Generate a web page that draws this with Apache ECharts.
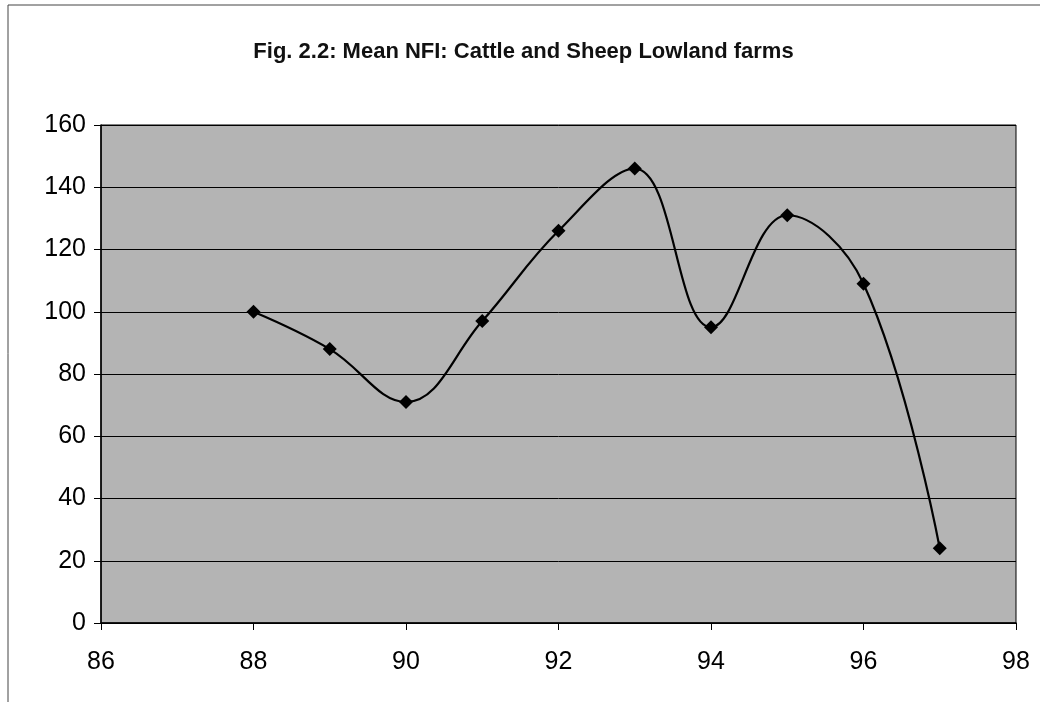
<!DOCTYPE html>
<html>
<head>
<meta charset="utf-8">
<script src="https://cdn.jsdelivr.net/npm/echarts@6/dist/echarts.min.js"></script>
<style>
html,body{margin:0;padding:0;background:#fff;}
#chart{width:1047px;height:705px;}
</style>
</head>
<body>
<div id="chart"></div>
<script>
var years = [88, 89, 90, 91, 92, 93, 94, 95, 96, 97];
var nfi = [100, 88, 71, 97, 126, 146, 95, 131, 109, 24];
var yTicks = [0, 20, 40, 60, 80, 100, 120, 140, 160];
var xTicks = [86, 88, 90, 92, 94, 96, 98];

var chart = echarts.init(document.getElementById('chart'), null, {renderer: 'canvas'});
var pts = years.map(function (y, i) { return [y, nfi[i]]; });
chart.setOption({
  animation: false,
  backgroundColor: '#ffffff',
  title: {
    text: 'Fig. 2.2: Mean NFI: Cattle and Sheep Lowland farms',
    left: 'center',
    top: 36,
    textStyle: {fontFamily: 'Liberation Sans', fontSize: 22, fontWeight: 'bold', color: '#111'}
  },
  graphic: [
    {type: 'line', shape: {x1: 8, y1: 5, x2: 1040, y2: 5}, style: {stroke: '#444', lineWidth: 1}},
    {type: 'line', shape: {x1: 8, y1: 5, x2: 8, y2: 702}, style: {stroke: '#444', lineWidth: 1}}
  ],
  grid: {
    left: 101, right: 31, top: 125, bottom: 82,
    show: true, backgroundColor: '#b4b4b4', borderColor: '#000', borderWidth: 1
  },
  xAxis: {
    type: 'value', min: xTicks[0], max: xTicks[xTicks.length - 1], interval: 2,
    axisLine: {lineStyle: {color: '#000', width: 1.5}},
    axisTick: {show: true, length: 7, lineStyle: {color: '#000'}},
    splitLine: {show: false},
    axisLabel: {fontFamily: 'Liberation Sans', fontSize: 25, color: '#000', margin: 27}
  },
  yAxis: {
    type: 'value', min: yTicks[0], max: yTicks[yTicks.length - 1], interval: 20,
    axisLine: {show: true, lineStyle: {color: '#000', width: 1.5}},
    axisTick: {show: true, length: 7, lineStyle: {color: '#000'}},
    splitLine: {show: true, lineStyle: {color: '#000', width: 1}},
    axisLabel: {fontFamily: 'Liberation Sans', fontSize: 25, color: '#000', margin: 15}
  },
  series: [{
    type: 'line',
    data: pts,
    smooth: 0.4,
    symbol: 'diamond',
    symbolSize: 14,
    itemStyle: {color: '#000'},
    lineStyle: {color: '#000', width: 2.2}
  }]
});
</script>
</body>
</html>
